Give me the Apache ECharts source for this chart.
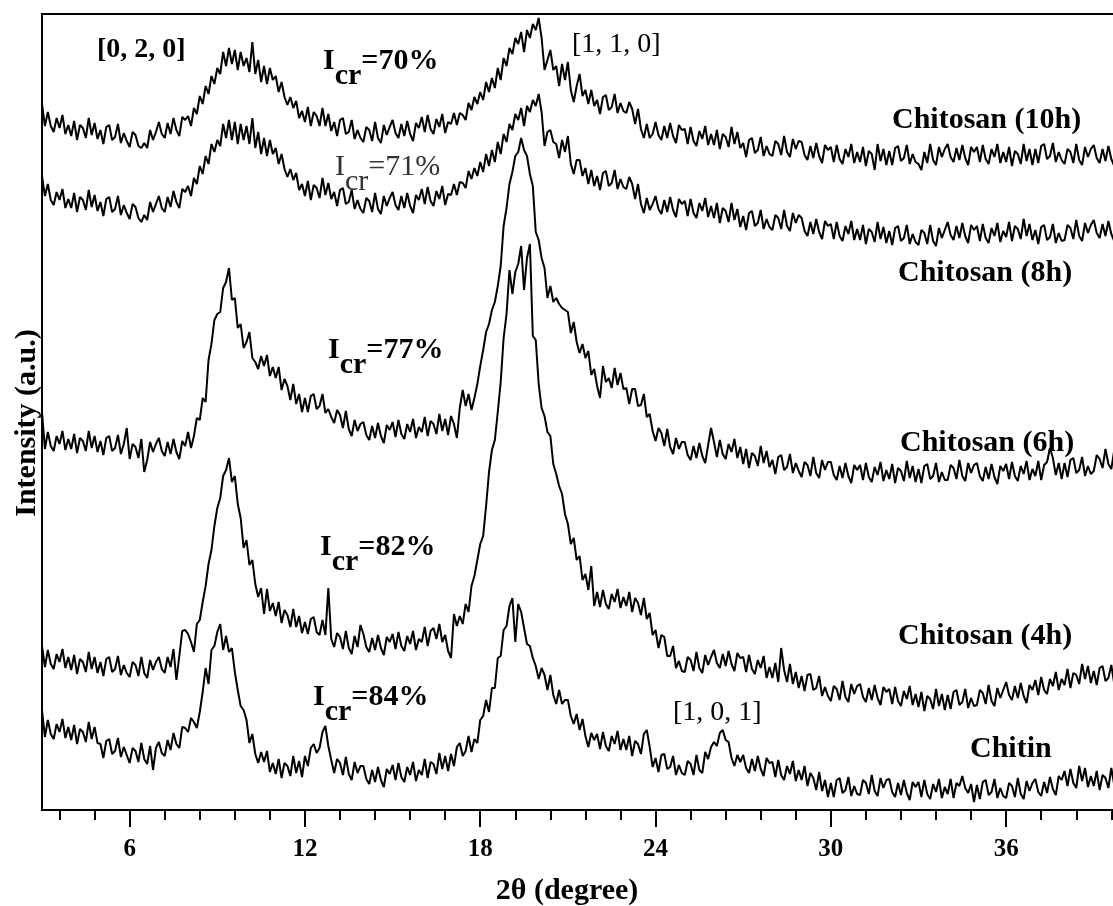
<!DOCTYPE html>
<html>
<head>
<meta charset="utf-8">
<script src="https://cdn.jsdelivr.net/npm/echarts@6/dist/echarts.min.js"></script>
<style>
  html, body { margin: 0; padding: 0; background: #fff; }
  #chart { width: 1113px; height: 906px; }
</style>
</head>
<body>
<div id="chart"></div>
<script>
// XRD patterns sampled every 0.1 degree of 2-theta, starting at 3.0
const thetaStart = 3.0;
const thetaStep = 0.1;

// Intensities (a.u.), patterns stacked as plotted
const chitin = [
  100,73,90,76,71,86,78,91,72,83,        // 3
  70,85,66,81,78,68,88,71,83,67,         // 4
  66,52,69,71,56,59,72,53,63,55,         // 5
  47,62,59,48,67,51,46,64,40,62,         // 6
  68,57,54,70,60,77,66,62,83,82,         // 7
  78,92,88,82,98,118,142,126,160,164,    // 8
  178,186,160,174,158,162,138,120,104,100, // 9
  90,67,76,56,47,58,48,59,38,47,         // 10
  36,51,32,47,44,34,54,37,49,33,         // 11
  54,44,62,66,57,62,78,84,64,50,         // 12
  37,51,47,35,53,36,30,48,37,44,         // 13
  44,31,26,40,28,43,30,23,41,36,         // 14
  45,30,47,33,28,43,35,48,29,40,         // 15
  35,51,32,48,46,36,57,41,54,39,         // 16
  56,44,63,67,54,59,74,58,71,67,         // 17
  90,94,110,98,122,122,152,154,180,184,  // 18
  204,212,168,206,198,182,166,164,152,144, // 19
  131,142,135,120,135,115,106,120,106,110, // 20
  110,94,86,96,80,91,74,63,77,70,        // 21
  76,61,78,64,59,74,66,79,60,71,         // 22
  60,74,54,69,66,56,76,80,63,43,         // 23
  52,38,55,56,41,43,54,35,45,37,         // 24
  35,49,46,35,55,40,37,58,51,63,         // 25
  68,64,77,80,70,68,52,44,55,48,         // 26
  55,42,37,51,39,54,41,34,52,47,         // 27
  48,33,50,35,30,44,36,49,29,40,         // 28
  30,44,24,37,32,20,38,19,30,13,         // 29
  27,13,30,32,17,20,33,14,24,16,         // 30
  15,30,27,16,35,19,14,32,22,30,         // 31
  31,18,13,27,15,30,17,10,28,23,         // 32
  28,13,30,16,11,26,18,31,12,23,         // 33
  16,31,12,27,24,34,22,17,26,8,          // 34
  25,11,28,30,15,18,31,12,22,14,         // 35
  12,27,24,13,32,16,11,29,19,27,         // 36
  31,18,14,28,17,33,21,15,34,30,         // 37
  39,24,41,27,22,44,29,42,23,34,         // 38
  24,39,20,35,32,22,42,25                // 39
];

const chitosan4h = [
  164,143,160,146,141,156,148,161,142,153, // 3
  140,155,136,151,148,138,158,141,153,137, // 4
  148,134,151,153,138,141,154,135,145,137, // 5
  133,148,145,134,153,137,132,150,140,148, // 6
  153,141,137,153,143,161,130,154,179,180, // 7
  176,168,158,186,190,208,224,246,260,284, // 8
  302,312,334,340,352,328,334,306,292,262, // 9
  270,245,250,226,213,222,196,221,199,207, // 10
  194,208,187,200,195,183,201,183,194,177, // 11
  188,176,191,193,178,175,190,175,222,171, // 12
  163,177,173,161,179,162,156,174,163,185, // 13
  176,163,158,172,160,175,162,155,173,168, // 14
  176,161,178,164,159,174,166,179,160,171, // 15
  168,183,164,179,182,171,186,168,175,159, // 16
  152,196,184,194,186,206,198,224,234,250, // 17
  266,274,304,338,360,370,398,428,472,496, // 18
  540,516,538,546,564,520,552,566,474,470, // 19
  426,402,394,378,374,346,336,324,316,296, // 20
  286,266,272,250,254,230,236,220,244,204, // 21
  218,203,220,206,201,216,208,221,202,213, // 22
  204,218,198,212,207,195,212,191,197,175, // 23
  180,162,175,173,154,154,164,142,149,139, // 24
  138,153,150,139,158,142,137,155,145,153, // 25
  160,147,142,156,144,159,146,139,157,152, // 26
  153,138,155,141,136,150,142,154,132,143, // 27
  132,147,128,162,140,128,146,126,138,122, // 28
  134,119,135,136,120,122,134,114,123,114, // 29
  109,124,121,110,129,113,108,126,116,124, // 30
  126,113,108,122,110,125,112,105,123,118, // 31
  121,106,123,109,104,119,111,124,105,116, // 32
  103,118,99,114,111,101,121,104,116,100,  // 33
  115,101,118,120,105,108,121,102,112,104, // 34
  105,120,117,106,125,109,104,122,112,120, // 35
  128,115,110,124,112,127,114,107,125,120, // 36
  130,115,133,120,116,131,124,138,120,131, // 37
  125,141,122,137,135,126,146,131,144,127, // 38
  139,125,142,144,129,132,145,126          // 39
];

const chitosan6h = [
  398,361,378,364,359,374,366,379,360,371, // 3
  361,376,357,372,369,359,379,362,374,358, // 4
  369,355,372,374,359,362,375,356,366,382, // 5
  351,366,363,352,371,338,350,368,358,366, // 6
  372,359,354,368,356,371,358,351,369,364, // 7
  378,362,374,392,390,412,408,450,466,490, // 8
  496,498,522,528,542,510,512,482,486,462, // 9
  468,478,452,448,441,454,444,455,434,443, // 10
  432,443,420,431,424,410,426,406,416,398, // 11
  412,398,414,416,401,404,416,397,401,393, // 12
  387,400,395,382,399,381,374,390,379,386, // 13
  388,375,370,384,372,387,374,367,385,380, // 14
  388,373,390,376,371,386,378,391,372,383, // 15
  378,393,374,389,386,376,396,379,391,375, // 16
  394,386,372,402,420,404,416,400,412,426, // 17
  444,460,478,486,500,508,524,544,584,602, // 18
  626,638,654,658,672,660,654,636,624,578, // 19
  570,552,542,512,524,508,512,506,502,500, // 20
  498,477,488,468,457,466,452,459,435,441, // 21
  424,412,444,428,432,422,442,425,437,421, // 22
  422,406,421,421,404,405,416,393,396,379, // 23
  369,382,377,364,381,363,356,372,361,368, // 24
  368,355,350,364,352,367,354,347,365,382, // 25
  368,353,370,356,351,366,358,371,352,363, // 26
  346,361,342,357,354,344,364,347,359,343, // 27
  350,336,353,355,340,343,356,337,347,339, // 28
  333,348,345,334,353,337,332,350,340,348, // 29
  348,335,330,344,332,347,334,327,345,340, // 30
  345,330,347,333,328,343,335,348,329,340, // 31
  331,346,327,342,339,329,349,332,344,328, // 32
  341,327,344,346,331,334,347,328,338,330, // 33
  330,345,342,331,350,334,329,347,337,345, // 34
  347,334,329,343,331,346,333,326,344,339, // 35
  346,331,348,334,329,344,336,349,330,341, // 36
  334,349,330,345,348,362,352,335,347,331, // 37
  347,333,350,352,337,340,353,334,344,336, // 38
  339,355,351,342,361,346,341,360          // 39
];

const chitosan8h = [
  634,614,626,610,605,618,610,621,602,611, // 3
  602,617,598,613,610,600,620,603,615,599, // 4
  608,594,611,613,598,601,614,595,605,597, // 5
  591,606,603,592,588,595,590,608,598,606, // 6
  614,602,598,613,603,619,608,602,621,618, // 7
  624,614,632,626,644,636,654,646,666,658, // 8
  670,664,686,672,690,670,688,666,686,670, // 9
  684,666,692,662,678,656,672,654,670,656, // 10
  662,646,656,641,633,641,630,637,620,626, // 11
  614,629,610,625,622,612,632,615,627,611, // 12
  618,604,620,622,606,608,620,601,610,601, // 13
  597,612,609,598,617,601,596,614,604,612, // 14
  618,605,600,614,602,617,604,597,615,610, // 15
  621,606,623,609,604,619,611,624,605,616, // 16
  615,626,615,628,627,622,639,631,642,634, // 17
  648,638,656,644,660,648,668,656,676,668, // 18
  686,680,696,690,702,684,704,698,710,704, // 19
  716,698,664,678,680,668,666,652,670,658, // 20
  674,646,636,650,650,634,642,626,640,624, // 21
  634,620,637,639,624,627,640,621,631,623, // 22
  621,633,626,611,626,606,597,612,600,606, // 23
  614,601,596,610,598,613,600,593,611,606, // 24
  609,594,611,597,592,607,599,612,593,604, // 25
  592,607,587,602,599,588,607,590,601,583, // 26
  594,580,597,599,584,587,600,581,591,583, // 27
  580,595,592,581,600,584,579,597,587,595, // 28
  592,579,574,588,576,591,578,571,589,584, // 29
  586,571,588,574,569,584,576,589,570,581, // 30
  570,585,566,581,578,568,588,571,583,567, // 31
  579,565,582,584,569,572,585,566,576,568, // 32
  565,580,577,566,585,569,564,582,572,580, // 33
  588,575,570,584,572,587,574,567,585,580, // 34
  584,569,586,572,567,582,574,587,568,579, // 35
  573,588,569,584,581,571,591,574,586,570, // 36
  580,566,583,585,570,573,586,567,577,569, // 37
  570,585,582,571,590,574,569,587,577,585, // 38
  590,577,572,586,574,589,576,569          // 39
];

const chitosan10h = [
  706,684,698,684,678,692,682,695,676,685, // 3
  674,689,670,685,682,672,692,675,687,671, // 4
  680,666,683,685,670,673,686,667,677,669, // 5
  663,678,675,664,662,667,662,680,670,678, // 6
  688,676,672,687,676,692,680,674,693,690, // 7
  694,684,702,696,714,706,724,716,734,726, // 8
  742,736,758,744,762,746,760,740,758,744, // 9
  752,738,768,736,750,728,744,726,742,730, // 10
  734,718,728,713,705,713,702,709,692,699, // 11
  688,703,684,698,694,684,702,684,696,679, // 12
  688,674,690,692,676,678,690,671,680,672, // 13
  668,683,680,669,688,672,667,685,675,683, // 14
  690,677,672,686,674,689,676,669,687,682, // 15
  693,678,695,681,676,691,683,696,677,688, // 16
  686,697,685,697,695,690,707,700,713,706, // 17
  718,710,728,718,732,722,742,730,752,744, // 18
  762,756,772,766,778,758,780,772,786,780, // 19
  792,772,740,750,760,740,744,724,746,730, // 20
  748,720,708,724,736,714,720,706,720,704, // 21
  710,696,713,715,700,703,716,697,707,699, // 22
  697,708,701,686,701,681,672,686,672,676, // 23
  688,675,670,684,672,687,674,667,685,680, // 24
  681,666,683,669,664,679,671,684,665,676, // 25
  665,680,661,676,673,663,683,666,678,662, // 26
  667,653,670,672,657,660,673,654,664,656, // 27
  654,669,666,655,674,658,653,671,661,669, // 28
  668,655,650,664,652,667,654,647,665,660, // 29
  663,648,665,651,646,661,653,666,647,658, // 30
  648,663,644,659,656,640,666,649,661,645, // 31
  659,645,662,664,649,652,665,646,656,648, // 32
  646,640,658,647,666,650,645,663,653,661, // 33
  666,653,648,662,650,665,652,645,663,658, // 34
  663,648,665,651,646,661,653,666,647,658, // 35
  648,663,644,659,656,646,666,649,661,645, // 36
  661,647,664,666,651,654,667,648,658,650, // 37
  646,661,658,647,666,650,645,663,653,661, // 38
  665,652,647,661,649,664,651,644          // 39
];

// Axis ticks and labels
const majorTicks = [6, 12, 18, 24, 30, 36];
const minorTicks = [3.6, 4.8, 7.2, 8.4, 9.6, 10.8, 13.2, 14.4, 15.6, 16.8,
  19.2, 20.4, 21.6, 22.8, 25.2, 26.4, 27.6, 28.8, 31.2, 32.4, 33.6, 34.8,
  37.2, 38.4, 39.6];

const patternNames = ['Chitin', 'Chitosan (4h)', 'Chitosan (6h)', 'Chitosan (8h)', 'Chitosan (10h)'];
const crystallinity = ['84%', '82%', '77%', '71%', '70%'];

const SERIF = '"Liberation Serif", "Times New Roman", serif';

function toPoints(values) {
  return values.map((v, i) => [+(thetaStart + i * thetaStep).toFixed(2), v]);
}

const measureCtx = document.createElement('canvas').getContext('2d');
function textWidth(str, font) {
  measureCtx.font = font;
  return measureCtx.measureText(str).width;
}

// "I" with a lowered "cr" followed by "=NN%"
function icrLabel(x, yMid, pct, weight, color) {
  const font = weight + ' 30px ' + SERIF;
  const wI = textWidth('I', font);
  const wCr = textWidth('cr', font);
  const base = { font: font, fill: color, align: 'left', verticalAlign: 'middle' };
  return [
    { type: 'text', x: x, y: yMid, style: Object.assign({ text: 'I' }, base) },
    { type: 'text', x: x + wI, y: yMid + 15, style: Object.assign({ text: 'cr' }, base) },
    { type: 'text', x: x + wI + wCr, y: yMid, style: Object.assign({ text: '=' + pct }, base) }
  ];
}

function plainLabel(x, yMid, text, weight, size, color) {
  return {
    type: 'text', x: x, y: yMid,
    style: { text: text, font: weight + ' ' + size + 'px ' + SERIF, fill: color || '#000',
             align: 'left', verticalAlign: 'middle' }
  };
}

const allPatterns = [chitin, chitosan4h, chitosan6h, chitosan8h, chitosan10h];

const chart = echarts.init(document.getElementById('chart'), null, { renderer: 'canvas' });

const graphics = [
  // axis titles
  { type: 'text', x: 567, y: 891,
    style: { text: '2θ (degree)', font: 'bold 30px ' + SERIF, fill: '#000', align: 'center', verticalAlign: 'middle' } },
  { type: 'text', x: 27, y: 423, rotation: Math.PI / 2,
    style: { text: 'Intensity (a.u.)', font: 'bold 30px ' + SERIF, fill: '#000', align: 'center', verticalAlign: 'middle' } },
  // reflections
  plainLabel(97, 50, '[0, 2, 0]', 'bold', 28),
  plainLabel(572, 45, '[1, 1, 0]', 'normal', 28),
  plainLabel(673, 713, '[1, 0, 1]', 'normal', 28),
  // pattern names
  plainLabel(892, 120, patternNames[4], 'bold', 30),
  plainLabel(898, 273, patternNames[3], 'bold', 30),
  plainLabel(900, 443, patternNames[2], 'bold', 30),
  plainLabel(898, 636, patternNames[1], 'bold', 30),
  plainLabel(970, 749, patternNames[0], 'bold', 30)
].concat(
  icrLabel(323, 61, crystallinity[4], 'bold', '#000'),
  icrLabel(335, 167, crystallinity[3], 'normal', '#333'),
  icrLabel(328, 350, crystallinity[2], 'bold', '#000'),
  icrLabel(320, 547, crystallinity[1], 'bold', '#000'),
  icrLabel(313, 697, crystallinity[0], 'bold', '#000')
);

chart.setOption({
  animation: false,
  backgroundColor: '#fff',
  grid: {
    left: 42, top: 14, width: 1081, height: 796,
    show: true, borderColor: '#000', borderWidth: 2,
    containLabel: false, outerBoundsMode: 'none'
  },
  xAxis: [
    {
      type: 'value', min: 3, max: 40, position: 'bottom',
      axisLine: { show: true, onZero: false, lineStyle: { color: '#000', width: 2 } },
      axisTick: { show: true, customValues: majorTicks, length: 17, inside: false,
                  lineStyle: { color: '#000', width: 2 } },
      axisLabel: { show: true, customValues: majorTicks, margin: 27, color: '#000',
                   fontFamily: SERIF, fontWeight: 'bold', fontSize: 25 },
      splitLine: { show: false }
    },
    {
      type: 'value', min: 3, max: 40, position: 'bottom', offset: 0,
      axisLine: { show: false },
      axisTick: { show: true, customValues: minorTicks, length: 10, inside: false,
                  lineStyle: { color: '#000', width: 2 } },
      axisLabel: { show: false },
      splitLine: { show: false }
    }
  ],
  yAxis: {
    type: 'value', min: 0, max: 796,
    axisLine: { show: false }, axisTick: { show: false },
    axisLabel: { show: false }, splitLine: { show: false }
  },
  series: allPatterns.map((vals, k) => ({
    name: patternNames[k],
    type: 'line',
    xAxisIndex: 0,
    data: toPoints(vals),
    showSymbol: false,
    symbol: 'none',
    lineStyle: { color: '#000', width: 2 },
    silent: true
  })),
  graphic: graphics
});
</script>
</body>
</html>
